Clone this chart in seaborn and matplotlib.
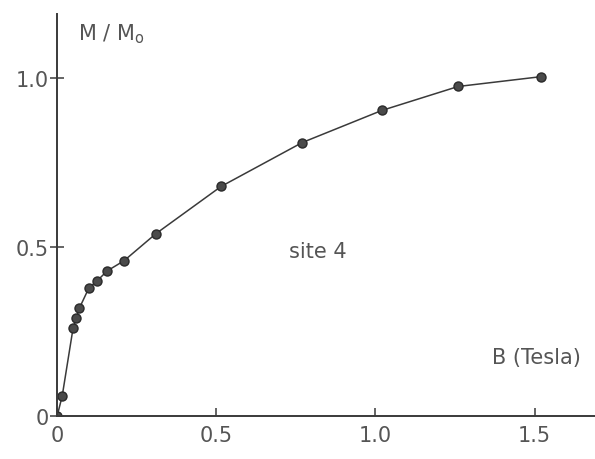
import numpy as np
import pandas as pd
import matplotlib
matplotlib.use("Agg")
import matplotlib.pyplot as plt
import seaborn as sns

# magnetisation curve, site 4
field_tesla = [0.0, 0.016, 0.05, 0.06, 0.07, 0.10, 0.125, 0.157, 0.21, 0.31,
               0.515, 0.77, 1.02, 1.26, 1.52]
m_ratio = [0.0, 0.06, 0.26, 0.29, 0.32, 0.38, 0.40, 0.43, 0.46, 0.54,
           0.68, 0.81, 0.905, 0.976, 1.005]

x_ticks = [0, 0.5, 1.0, 1.5]
x_tick_labels = ["0", "0.5", "1.0", "1.5"]
y_ticks = [0, 0.5, 1.0]
y_tick_labels = ["0", "0.5", "1.0"]

df = pd.DataFrame({"B": field_tesla, "M": m_ratio})

sns.set_theme(style="white")
plt.rcParams['font.family'] = ['DejaVu Sans']

ink = "#3a3a3a"
txt = "#555555"

fig = plt.figure(figsize=(5.95, 4.6), dpi=100)
ax = fig.add_axes([0.096, 0.093, 0.904, 0.874])

sns.lineplot(data=df, x="B", y="M", sort=False, ax=ax, color=ink, linewidth=1.1,
             marker="o", markersize=6.5, markerfacecolor="#4a4a4a",
             markeredgecolor="#2a2a2a", markeredgewidth=1.0)

ax.set_xlim(0, 1.69)
ax.set_ylim(0, 1.19)

sns.despine(ax=ax)
for side in ["left", "bottom"]:
    ax.spines[side].set_color(ink)
    ax.spines[side].set_linewidth(1.4)

ax.set_xticks(x_ticks)
ax.set_xticklabels(x_tick_labels)
ax.set_yticks(y_ticks)
ax.set_yticklabels(y_tick_labels)
ax.tick_params(axis="x", direction="in", length=6, width=1.1, color=ink,
               labelsize=15, labelcolor=txt, pad=6, bottom=True)
ax.tick_params(axis="y", direction="inout", length=10, width=1.1, color=ink,
               labelsize=15, labelcolor=txt, pad=1, left=True)

ax.set_xlabel("")
ax.set_ylabel("")

ax.text(0.065, 1.135, r"M / M$_\mathrm{o}$", fontsize=15, color=txt,
        ha="left", va="center")
ax.text(1.505, 0.175, "B (Tesla)", fontsize=15, color=txt, ha="center", va="center")
ax.text(0.82, 0.49, "site 4", fontsize=15, color=txt, ha="center", va="center")

fig.savefig("out.png", dpi=100)
